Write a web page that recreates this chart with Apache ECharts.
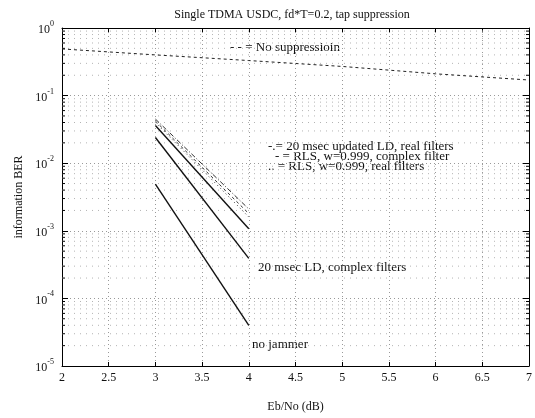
<!DOCTYPE html>
<html>
<head>
<meta charset="utf-8">
<script src="https://cdn.jsdelivr.net/npm/echarts@6/dist/echarts.min.js"></script>
<style>html,body{margin:0;padding:0;background:#fff}#c{width:535px;height:418px}</style>
</head>
<body>
<div id="c"></div>
<script>
// ---- data ----
const ebnoFull = [2, 3, 4, 5, 6, 7];
const noSuppression = [0.49, 0.40, 0.33, 0.27, 0.21, 0.17];
const ebnoShort = [3, 4];
const noJammer = [4.9e-3, 4.0e-5];
const ldComplex = [0.024, 3.9e-4];
const upperSolid = [0.036, 1.07e-3];
const ldUpdatedReal = [0.045, 2.1e-3];
const rlsComplex = [0.042, 1.8e-3];
const rlsReal = [0.040, 1.6e-3];
const xTicks = [2, 2.5, 3, 3.5, 4, 4.5, 5, 5.5, 6, 6.5, 7];
const decades = [-5, -4, -3, -2, -1, 0];

const FONT = '"Liberation Serif", "DejaVu Serif", serif';
const pair = (xs, ys) => xs.map((x, i) => [x, ys[i]]);

// minor log positions (2..9 x 10^d) for grid and ticks
const minorVals = [];
decades.slice(0, -1).forEach(d => { for (let m = 2; m <= 9; m++) minorVals.push([2, m * Math.pow(10, d)]); });

const chart = echarts.init(document.getElementById('c'), null, {renderer: 'canvas'});
const lineBase = {type: 'line', symbol: 'none', xAxisIndex: 0, yAxisIndex: 0, silent: true, animation: false};

chart.setOption({
  backgroundColor: '#fff',
  animation: false,
  title: {
    text: 'Single TDMA USDC, fd*T=0.2, tap suppression',
    left: 287, top: 4, textAlign: 'center',
    textStyle: {fontFamily: FONT, fontSize: 12, fontWeight: 'normal', color: '#111'}
  },
  grid: {left: 62, right: 2, top: 28, bottom: 50},
  xAxis: [{
    type: 'value', min: 2, max: 7, interval: 0.5,
    name: 'Eb/No (dB)', nameLocation: 'middle', nameGap: 35,
    nameTextStyle: {fontFamily: FONT, fontSize: 12, color: '#111'},
    axisLine: {show: true, lineStyle: {color: '#000', width: 1}},
    axisTick: {show: true, inside: true, length: 4, lineStyle: {color: '#000'}},
    axisLabel: {fontFamily: FONT, fontSize: 12, color: '#111', margin: 6,
      formatter: v => String(v)},
    splitLine: {show: true, lineStyle: {color: '#999', type: [1, 3], width: 1}}
  }, {
    type: 'value', min: 2, max: 7, interval: 0.5, position: 'top',
    axisLine: {show: true, lineStyle: {color: '#000'}},
    axisTick: {show: true, inside: true, length: 4, lineStyle: {color: '#000'}},
    axisLabel: {show: false}, splitLine: {show: false}
  }],
  yAxis: [{
    type: 'log', logBase: 10, min: 1e-5, max: 1,
    name: 'information BER', nameLocation: 'middle', nameGap: 37, nameRotate: 90,
    nameTextStyle: {fontFamily: FONT, fontSize: 12, color: '#111'},
    axisLine: {show: true, lineStyle: {color: '#000', width: 1}},
    axisTick: {show: true, inside: true, length: 6, lineStyle: {color: '#000'}},
    axisLabel: {
      margin: 8,
      formatter: v => '{b|10}{s|' + Math.round(Math.log10(v)) + '}',
      rich: {
        b: {fontFamily: FONT, fontSize: 12, color: '#111', lineHeight: 16, verticalAlign: 'bottom'},
        s: {fontFamily: FONT, fontSize: 8, color: '#111', lineHeight: 16, verticalAlign: 'top'}
      }
    },
    splitLine: {show: true, lineStyle: {color: '#999', type: [1, 3], width: 1}}
  }, {
    type: 'log', logBase: 10, min: 1e-5, max: 1, position: 'right',
    axisLine: {show: true, lineStyle: {color: '#000'}},
    axisTick: {show: true, inside: true, length: 6, lineStyle: {color: '#000'}},
    axisLabel: {show: false}, splitLine: {show: false}
  }],
  series: [
    {
      type: 'custom', xAxisIndex: 0, yAxisIndex: 0, silent: true, z: 1,
      encode: {x: 0, y: 1},
      data: minorVals,
      renderItem: (params, api) => {
        const p1 = api.coord([2, api.value(1)]);
        const p2 = api.coord([7, api.value(1)]);
        return {type: 'group', children: [
          {type: 'line', shape: {x1: p1[0], y1: p1[1], x2: p2[0], y2: p2[1]},
            style: {stroke: '#b4b4b4', lineDash: [1, 5], lineWidth: 1}},
          {type: 'line', shape: {x1: p1[0], y1: p1[1], x2: p1[0] + 3, y2: p1[1]},
            style: {stroke: '#000', lineWidth: 1}},
          {type: 'line', shape: {x1: p2[0] - 3, y1: p2[1], x2: p2[0], y2: p2[1]},
            style: {stroke: '#000', lineWidth: 1}}
        ]};
      }
    },
    Object.assign({}, lineBase, {name: 'No suppression', data: pair(ebnoFull, noSuppression),
      lineStyle: {color: '#222', width: 1, type: [3, 3]}}),
    Object.assign({}, lineBase, {name: 'no jammer', data: pair(ebnoShort, noJammer),
      lineStyle: {color: '#111', width: 1.4, type: 'solid'}}),
    Object.assign({}, lineBase, {name: '20 msec LD, complex filters', data: pair(ebnoShort, ldComplex),
      lineStyle: {color: '#111', width: 1.4, type: 'solid'}}),
    Object.assign({}, lineBase, {name: 'upper solid', data: pair(ebnoShort, upperSolid),
      lineStyle: {color: '#111', width: 1.4, type: 'solid'}}),
    Object.assign({}, lineBase, {name: '20 msec updated LD, real filters', data: pair(ebnoShort, ldUpdatedReal),
      lineStyle: {color: '#333', width: 1, type: [5, 2, 1, 2]}}),
    Object.assign({}, lineBase, {name: 'RLS complex', data: pair(ebnoShort, rlsComplex),
      lineStyle: {color: '#333', width: 1, type: [3, 3]}}),
    Object.assign({}, lineBase, {name: 'RLS real', data: pair(ebnoShort, rlsReal),
      lineStyle: {color: '#333', width: 1, type: [1, 3]}})
  ],
  graphic: [
    {type: 'text', left: 230, top: 41, style: {text: '- - = No suppressioin', font: '13px ' + FONT, fill: '#111'}},
    {type: 'text', left: 268, top: 140, style: {text: '-.= 20 msec updated LD, real filters', font: '13px ' + FONT, fill: '#111'}},
    {type: 'text', left: 275, top: 150, style: {text: '- = RLS, w=0.999, complex filter', font: '13px ' + FONT, fill: '#111'}},
    {type: 'text', left: 268, top: 160, style: {text: '.. = RLS, w=0.999, real filters', font: '13px ' + FONT, fill: '#111'}},
    {type: 'text', left: 258, top: 261, style: {text: '20 msec LD, complex filters', font: '13px ' + FONT, fill: '#111'}},
    {type: 'text', left: 252, top: 338, style: {text: 'no jammer', font: '13px ' + FONT, fill: '#111'}}
  ]
});
</script>
</body>
</html>
